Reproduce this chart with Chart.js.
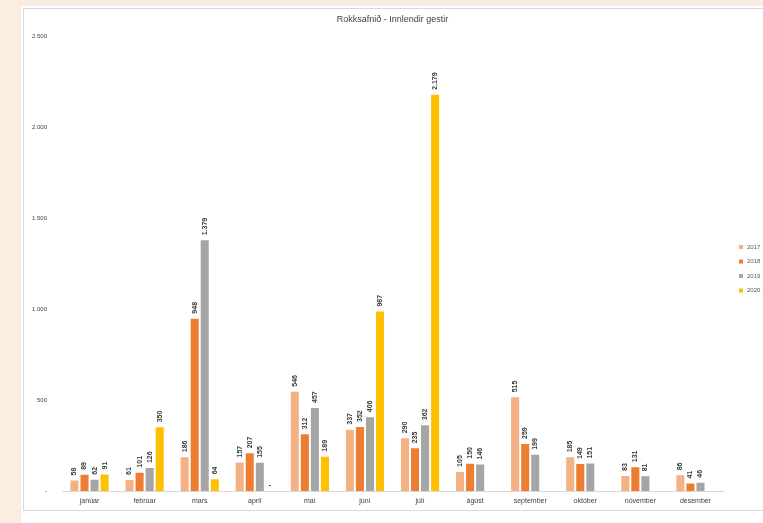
<!DOCTYPE html>
<html>
<head>
<meta charset="utf-8">
<script src="https://cdn.jsdelivr.net/npm/chart.js@4"></script>
<style>
    html, body { margin: 0; padding: 0; width: 763px; height: 523px; overflow: hidden; background: #fbeee1; }
    #panel { position: absolute; left: 20px; top: 5px; width: 800px; height: 530px; background: #fff; border: 1px solid #ececec; }
    #chartBox { position: absolute; left: 23px; top: 8px; width: 777px; height: 501px; border: 1px solid #d9d9d9; background: #fff; }
</style>
</head>
<body>
<div id="panel"></div>
<div id="chartBox"><canvas id="visitorsChart"></canvas></div>
<script>
const months = ['janúar', 'febrúar', 'mars', 'apríl', 'maí', 'júní', 'júlí', 'ágúst', 'september', 'október', 'nóvember', 'desember'];
const years = ['2017', '2018', '2019', '2020'];
const visitors2017 = [58, 61, 186, 157, 546, 337, 290, 105, 515, 185, 83, 86];
const visitors2018 = [89, 101, 948, 207, 312, 352, 235, 150, 259, 149, 131, 41];
const visitors2019 = [62, 126, 1379, 155, 457, 406, 362, 146, 199, 151, 81, 46];
const visitors2020 = [91, 350, 64, 0, 189, 987, 2179, null, null, null, null, null];
const yTicks = [0, 500, 1000, 1500, 2000, 2500];

const colors = ['#f4b183', '#ed7d31', '#a5a5a5', '#ffc000'];

function formatNumber(v) {
    if (v === 0) return '-';
    return String(v).replace(/\B(?=(\d{3})+(?!\d))/g, '.');
}

// labels above each bar, turned on their side
const barLabels = {
    id: 'barLabels',
    afterDatasetsDraw(chart) {
        const ctx = chart.ctx;
        ctx.save();
        ctx.fillStyle = '#3a3a3a';
        ctx.font = 'bold 7px "Liberation Sans", Arial, sans-serif';
        chart.data.datasets.forEach((ds, i) => {
            const meta = chart.getDatasetMeta(i);
            meta.data.forEach((bar, j) => {
                const v = ds.data[j];
                if (v === null || v === undefined) return;
                if (v === 0) {
                    ctx.textAlign = 'center';
                    ctx.textBaseline = 'middle';
                    ctx.fillText('-', bar.x, bar.y - 6);
                    return;
                }
                ctx.save();
                ctx.translate(bar.x, bar.y - 5);
                ctx.rotate(-Math.PI / 2);
                ctx.textAlign = 'left';
                ctx.textBaseline = 'middle';
                ctx.fillText(formatNumber(v), 0, 0);
                ctx.restore();
            });
        });
        ctx.restore();
    }
};

// small legend at the right edge
const sideLegend = {
    id: 'sideLegend',
    afterDraw(chart) {
        const ctx = chart.ctx;
        const x = chart.chartArea.right + 18;
        let y = 238;
        ctx.save();
        ctx.font = '6px "Liberation Sans", Arial, sans-serif';
        ctx.textBaseline = 'middle';
        ctx.textAlign = 'left';
        chart.data.datasets.forEach(ds => {
            ctx.fillStyle = ds.backgroundColor;
            ctx.fillRect(x - 2, y - 2, 4, 4);
            ctx.fillStyle = '#595959';
            ctx.fillText(ds.label, x + 6, y);
            y += 14.5;
        });
        ctx.restore();
    }
};

const ctx = document.getElementById('visitorsChart').getContext('2d');
new Chart(ctx, {
    type: 'bar',
    data: {
        labels: months,
        datasets: [visitors2017, visitors2018, visitors2019, visitors2020].map((d, i) => ({
            label: years[i],
            data: d,
            backgroundColor: colors[i],
            borderWidth: 0,
            categoryPercentage: 0.73,
            barPercentage: 0.8
        }))
    },
    options: {
        responsive: true,
        maintainAspectRatio: false,
        animation: false,
        layout: { padding: { left: 0, right: 78, top: 0, bottom: 0 } },
        plugins: {
            legend: { display: false },
            tooltip: { enabled: false },
            title: {
                display: true,
                text: 'Rokksafnið - Innlendir gestir',
                fullSize: false,
                color: '#404040',
                font: { family: '"Liberation Sans", Arial, sans-serif', size: 9, weight: 'normal' },
                padding: { top: 5.6, bottom: 11.1 }
            }
        },
        scales: {
            x: {
                grid: { display: false, drawTicks: false },
                border: { display: true, color: '#d9d9d9' },
                ticks: {
                    color: '#404040',
                    padding: 5.8,
                    font: { family: '"Liberation Sans", Arial, sans-serif', size: 7 }
                },
                afterFit(scale) { scale.height = 19; }
            },
            y: {
                min: yTicks[0],
                max: yTicks[yTicks.length - 1],
                grid: { display: false, drawTicks: false },
                border: { display: false },
                afterBuildTicks(scale) { scale.ticks = yTicks.map(v => ({ value: v })); },
                ticks: {
                    color: '#404040',
                    padding: 15,
                    font: { family: '"Liberation Sans", Arial, sans-serif', size: 6 },
                    callback: v => formatNumber(v)
                },
                afterFit(scale) { scale.width = 38; }
            }
        }
    },
    plugins: [barLabels, sideLegend]
});
</script>
</body>
</html>
